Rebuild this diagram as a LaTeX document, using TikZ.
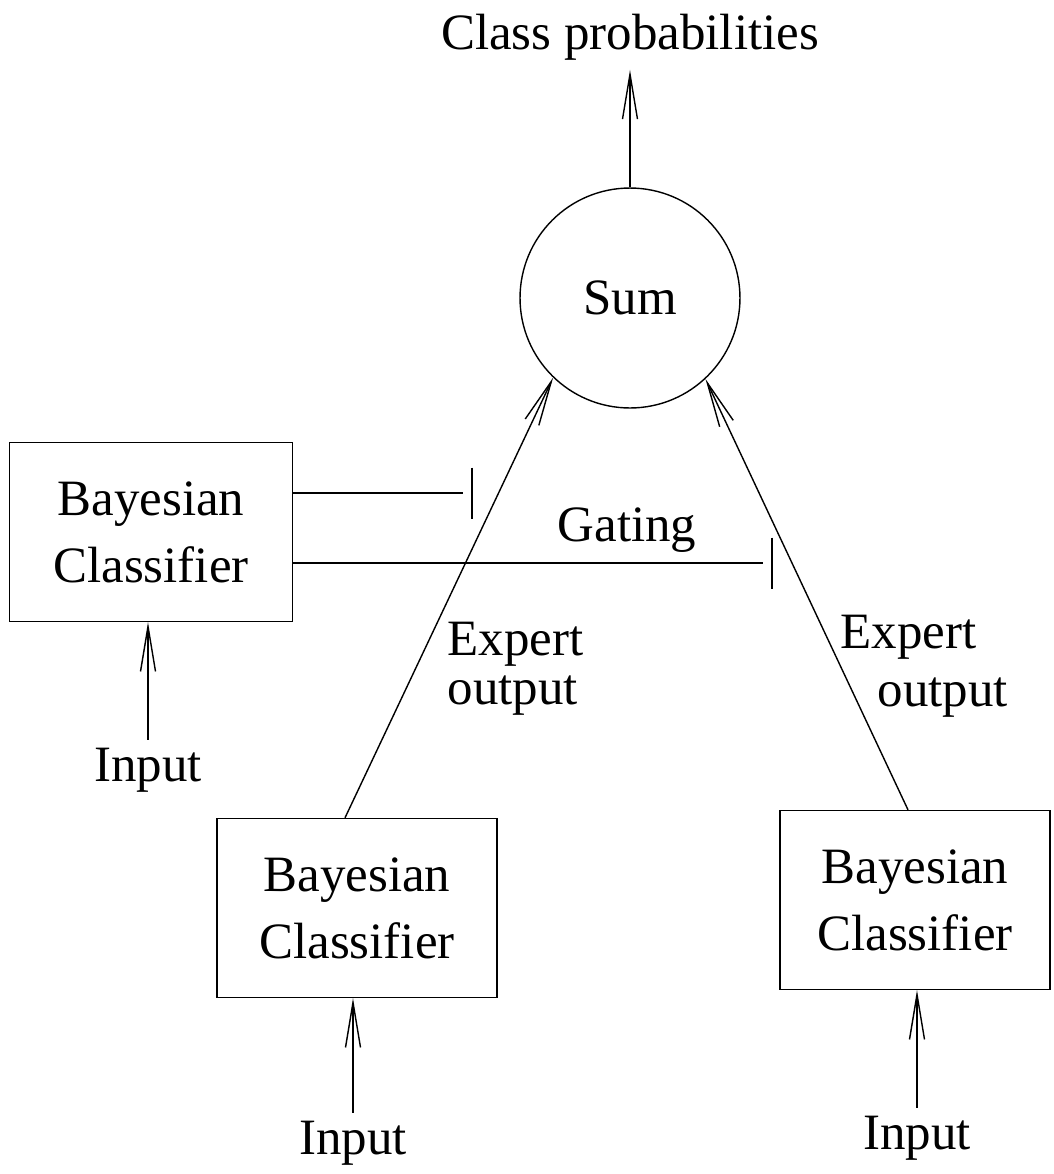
\documentclass[tikz,border=0pt]{standalone}
\usepackage{fontspec}
\setmainfont{Liberation Serif}
\usetikzlibrary{arrows.meta}

\begin{document}
\begin{tikzpicture}[x=0.02cm,y=-0.02cm,line width=0.8pt,
  font=\fontsize{29}{38}\selectfont,
  >={Straight Barb[length=0.9cm,width=0.3cm]},
  classifier/.style={draw,align=center,minimum width=5.6cm,minimum height=3.58cm},
  label/.style={inner sep=0pt}]
\useasboundingbox (0,0) rectangle (1054,1174);

\node (cp) at (630,37) [label] {Class probabilities};
\node (sum) at (630,298) [draw,circle,minimum size=4.4cm,inner sep=0pt] {Sum};

\node (bc1) at (151,532) [classifier,minimum width=5.66cm] {Bayesian\\Classifier};
\node (bc2) at (357,908) [classifier] {Bayesian\\Classifier};
\node (bc3) at (915,900) [classifier,minimum width=5.4cm] {Bayesian\\Classifier};

\node (in1) at (148,770) [label] {Input};
\node (in2) at (353,1143) [label] {Input};
\node (in3) at (917,1138) [label] {Input};

\draw[->] (sum.north) -- (cp.south) [shorten >=0.18cm];
\draw[->,shorten <=0.15cm] (in1) -- (in1 |- bc1.south);
\draw[->,shorten <=0.15cm] (in2) -- (in2 |- bc2.south);
\draw[->,shorten <=0.15cm] (in3) -- (in3 |- bc3.south);

\draw[->] ([xshift=-0.24cm]bc2.north) -- (sum.226);
\draw[->] ([xshift=-0.14cm]bc3.north) -- (sum.313);
\node (ex2) at (447,644) [label,anchor=west] {Expert};
\node (out2) at (447,696) [label,anchor=west] {output};
\node (ex3) at (840,637) [label,anchor=west] {Expert};
\node (out3) at (877,698) [label,anchor=west] {output};

\coordinate (g1) at (472,493);
\coordinate (g2) at (772,563);
\draw (bc1.east |- g1) -- ([xshift=-0.18cm]g1);
\draw ([yshift=0.51cm]g1) -- ([yshift=-0.51cm]g1);
\draw (bc1.east |- g2) -- ([xshift=-0.18cm]g2);
\draw ([yshift=0.51cm]g2) -- ([yshift=-0.51cm]g2);
\node (gate) at (627,530) [label] {Gating};
\end{tikzpicture}
\end{document}
